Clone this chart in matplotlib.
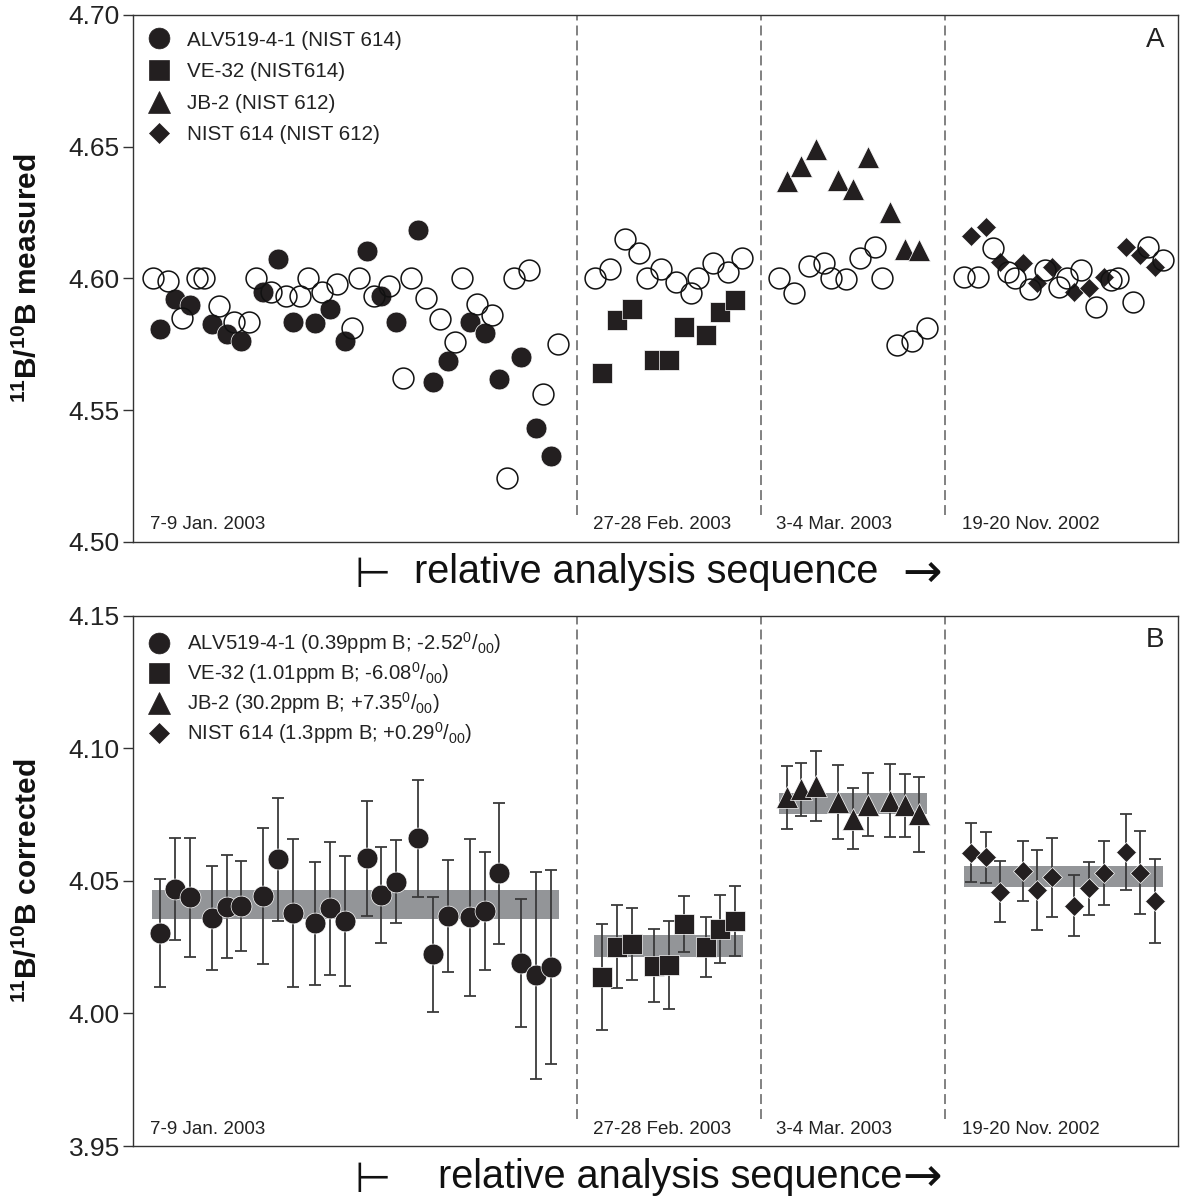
import matplotlib
matplotlib.use('Agg')
import matplotlib.pyplot as plt
from matplotlib.lines import Line2D
from matplotlib import font_manager as fm
import matplotlib.transforms as mtransforms


def has_font(name):
    try:
        fm.findfont(fm.FontProperties(family=name), fallback_to_default=False)
        return True
    except Exception:
        return False


MAIN = 'Liberation Sans'
NARROW = 'Liberation Sans Narrow' if has_font('Liberation Sans Narrow') else 'Liberation Sans'

plt.rcParams['font.family'] = [MAIN, 'DejaVu Sans']
plt.rcParams['mathtext.fontset'] = 'custom'
plt.rcParams['mathtext.rm'] = MAIN
plt.rcParams['mathtext.it'] = MAIN + ':italic'
plt.rcParams['mathtext.bf'] = MAIN + ':bold'

# ---------------- DATA ----------------
# Panel A: measured 11B/10B; x = position in relative analysis sequence
std_x = [2, 4, 6, 8, 9, 11, 13, 15, 16, 18, 20, 22, 23, 25, 27, 29, 30, 32, 34, 36, 37, 39,
         41, 43, 44, 46, 48, 50, 51, 53, 55, 57,
         62, 64, 66, 68, 69, 71, 73, 75, 76, 78, 80, 82,
         87, 89, 91, 93, 94, 96, 98, 100, 101, 103, 105, 107,
         112, 114, 116, 118, 119, 121, 123, 125, 126, 128, 130, 132, 133, 135, 137, 139]
std_meas = [4.600, 4.599, 4.585, 4.600, 4.600, 4.5895, 4.5833, 4.5833, 4.600, 4.5947, 4.5933,
            4.5933, 4.600, 4.5947, 4.5978, 4.5812, 4.600, 4.5933, 4.5971, 4.5623, 4.600, 4.5926,
            4.5844, 4.5759, 4.600, 4.5902, 4.5862, 4.5243, 4.600, 4.6032, 4.5561, 4.575,
            4.600, 4.6034, 4.6148, 4.6095, 4.600, 4.6036, 4.5987, 4.5943, 4.600, 4.6059, 4.6025, 4.6076,
            4.600, 4.5945, 4.6047, 4.6059, 4.600, 4.5997, 4.6077, 4.6118, 4.600, 4.5746, 4.5761, 4.5812,
            4.6004, 4.6004, 4.6116, 4.6025, 4.600, 4.5958, 4.6032, 4.5966, 4.600, 4.6032, 4.5892,
            4.5994, 4.600, 4.5911, 4.6120, 4.6069]

alv_x = [3, 5, 7, 10, 12, 14, 17, 19, 21, 24, 26, 28, 31, 33, 35, 38, 40, 42, 45, 47, 49, 52, 54, 56]
alv_meas = [4.5808, 4.5921, 4.5899, 4.5825, 4.5790, 4.5762, 4.5947, 4.6072, 4.5833, 4.5829,
            4.5883, 4.5762, 4.6105, 4.5933, 4.5833, 4.6183, 4.5607, 4.5687, 4.5833, 4.5791,
            4.5619, 4.5700, 4.5430, 4.5325]

ve_x = [63, 65, 67, 70, 72, 74, 77, 79, 81]
ve_meas = [4.5639, 4.5842, 4.5882, 4.5690, 4.5690, 4.5814, 4.5784, 4.5871, 4.5916]

jb_x = [88, 90, 92, 95, 97, 99, 102, 104, 106]
jb_meas = [4.6369, 4.6426, 4.6493, 4.6373, 4.6339, 4.6462, 4.6253, 4.6111, 4.6107]

nist_x = [113, 115, 117, 120, 122, 124, 127, 129, 131, 134, 136, 138]
nist_meas = [4.6161, 4.6196, 4.6063, 4.6057, 4.5983, 4.6044, 4.5949, 4.5964, 4.6004,
             4.6120, 4.6088, 4.6044]

# Panel B: corrected 11B/10B with 2-sigma errors
alv_corr = [4.0302, 4.0468, 4.0437, 4.0359, 4.0402, 4.0406, 4.0442, 4.0581, 4.0378, 4.0339,
            4.0396, 4.0349, 4.0584, 4.0446, 4.0496, 4.0660, 4.0222, 4.0367, 4.0362, 4.0386,
            4.0528, 4.0191, 4.0144, 4.0176]
alv_err = [0.0204, 0.0192, 0.0223, 0.0197, 0.0195, 0.0170, 0.0256, 0.0232, 0.0280, 0.0231,
           0.0250, 0.0245, 0.0217, 0.0180, 0.0156, 0.0220, 0.0215, 0.0211, 0.0295, 0.0224,
           0.0266, 0.0241, 0.0390, 0.0365]

ve_corr = [4.0138, 4.0251, 4.0260, 4.0180, 4.0182, 4.0336, 4.0251, 4.0318, 4.0348]
ve_err = [0.0200, 0.0157, 0.0136, 0.0137, 0.0166, 0.0105, 0.0114, 0.0129, 0.0132]

jb_corr = [4.0814, 4.0845, 4.0858, 4.0798, 4.0733, 4.0787, 4.0802, 4.0785, 4.0750]
jb_err = [0.0119, 0.0100, 0.0133, 0.0140, 0.0115, 0.0118, 0.0137, 0.0119, 0.0140]

nist_corr = [4.0606, 4.0588, 4.0459, 4.0537, 4.0465, 4.0513, 4.0405, 4.0471, 4.0530,
             4.0609, 4.0530, 4.0423]
nist_err = [0.0112, 0.0097, 0.0115, 0.0112, 0.0150, 0.0148, 0.0115, 0.0101, 0.0121,
            0.0144, 0.0157, 0.0159]

# mean +/- uncertainty bands (x-start, x-end, low, high)
band_x0 = [1.9, 61.9, 87.0, 112.0]
band_x1 = [57.1, 82.1, 107.1, 139.1]
band_lo = [4.0354, 4.0213, 4.0751, 4.0475]
band_hi = [4.0465, 4.0295, 4.0832, 4.0555]

session_breaks = [59.5, 84.5, 109.5]
session_labels = ['7-9 Jan. 2003', '27-28 Feb. 2003', '3-4 Mar. 2003', '19-20 Nov. 2002']
session_label_x = [1.6, 61.7, 86.6, 111.8]

legend_A = ['ALV519-4-1 (NIST 614)', 'VE-32 (NIST614)', 'JB-2 (NIST 612)', 'NIST 614 (NIST 612)']
legend_B = [r'ALV519-4-1 (0.39ppm B; -2.52$^{0}$/$_{00}$)',
            r'VE-32 (1.01ppm B; -6.08$^{0}$/$_{00}$)',
            r'JB-2 (30.2ppm B; +7.35$^{0}$/$_{00}$)',
            r'NIST 614 (1.3ppm B; +0.29$^{0}$/$_{00}$)']

yticks_A = [4.50, 4.55, 4.60, 4.65, 4.70]
yticks_B = [3.95, 4.00, 4.05, 4.10, 4.15]

# ---------------- STYLE ----------------
DARK = '#231f20'
BAND = '#939598'
XMIN, XMAX = -0.7, 141.1

fig = plt.figure(figsize=(11.85, 11.99), dpi=100)
W, H = 1185.0, 1199.0
axA = fig.add_axes([133 / W, 1 - 541.7 / H, 1045 / W, 526.7 / H])
axB = fig.add_axes([133 / W, 1 - 1146.0 / H, 1045 / W, 530.5 / H])

series = [('o', 15.0), ('s', 15.0), ('^', 15.5), ('D', 10.6)]


def style_axes(ax, yticks, letter, xlab_x, start_gap, arrow_gap, ylabel):
    ax.set_xlim(XMIN, XMAX)
    ax.set_ylim(yticks[0], yticks[-1])
    ax.set_yticks(yticks)
    ax.set_yticklabels(['%.2f' % t for t in yticks])
    ax.set_xticks([])
    ax.tick_params(axis='y', direction='out', length=7, width=1.0, labelsize=19,
                   pad=2.5, colors='#333333', labelcolor='#222222')
    for sp in ax.spines.values():
        sp.set_color('#333333')
        sp.set_linewidth(1.0)
    for xb in session_breaks:
        ax.axvline(xb, ymin=0.05, ymax=1.0, color='#777777', lw=1.3,
                   ls=(0, (5.5, 2.8)), zorder=0.5)
    trans = mtransforms.blended_transform_factory(ax.transData, ax.transAxes)
    for lx, lab in zip(session_label_x, session_labels):
        ax.text(lx, 0.032, lab, transform=trans, ha='left', va='center',
                fontsize=13.5, family=[NARROW, 'DejaVu Sans'], color='#222222')
    ax.text(0.978, 0.953, letter, transform=ax.transAxes, ha='center', va='center',
            fontsize=20, color='#222222')
    ax.set_xlabel('relative analysis sequence', fontsize=28.5,
                  family=[NARROW, 'DejaVu Sans'], color='#111111')
    ax.xaxis.set_label_coords(xlab_x, -0.022)
    ax.annotate('\u22a2', xy=(0.0, 0.42), xycoords=ax.xaxis.label,
                xytext=(-start_gap, 0), textcoords='offset points',
                ha='right', va='center', fontsize=30, family='DejaVu Sans',
                color='#111111', annotation_clip=False)
    ax.annotate('\u2192', xy=(1.0, 0.45), xycoords=ax.xaxis.label,
                xytext=(arrow_gap, 0), textcoords='offset points',
                ha='left', va='center', fontsize=34, family='DejaVu Sans',
                color='#111111', annotation_clip=False)
    ax.set_ylabel(ylabel, fontsize=21.5, fontweight='bold', color='#111111')
    ax.yaxis.set_label_coords(-0.086, 0.5)


# ---------- Panel A ----------
axA.plot(std_x, std_meas, ls='none', marker='o', ms=15, mfc='none', mec='#111111',
         mew=1.1, zorder=4)
for (mk, ms), xs, ys in zip(series, [alv_x, ve_x, jb_x, nist_x],
                            [alv_meas, ve_meas, jb_meas, nist_meas]):
    axA.plot(xs, ys, ls='none', marker=mk, ms=ms, mfc=DARK, mec='white', mew=0.5, zorder=3)

handlesA = [Line2D([], [], ls='none', marker=mk, ms=ms, mfc=DARK, mec=DARK, mew=0.5)
            for mk, ms in series]
legA = axA.legend(handlesA, legend_A, loc='upper left', bbox_to_anchor=(0.015, 0.9705),
                  frameon=False, fontsize=14.9, handlelength=1.0, handletextpad=0.87,
                  labelspacing=0.61, borderpad=0, borderaxespad=0)
for t in legA.get_texts():
    t.set_color('#222222')

style_axes(axA, yticks_A, 'A', 0.491, 17, 17,
           r'$^{\mathbf{11}}$B/$^{\mathbf{10}}$B measured')

# ---------- Panel B ----------
for x0, x1, lo, hi in zip(band_x0, band_x1, band_lo, band_hi):
    axB.fill_between([x0, x1], [lo, lo], [hi, hi], color=BAND, lw=0, zorder=1)

for (mk, ms), xs, ys, es in zip(series, [alv_x, ve_x, jb_x, nist_x],
                                [alv_corr, ve_corr, jb_corr, nist_corr],
                                [alv_err, ve_err, jb_err, nist_err]):
    axB.errorbar(xs, ys, yerr=es, fmt='none', ecolor='#3a3a3a', elinewidth=1.3,
                 capsize=4.5, capthick=1.3, zorder=2)
    axB.plot(xs, ys, ls='none', marker=mk, ms=ms, mfc=DARK, mec='white', mew=0.5, zorder=3)

handlesB = [Line2D([], [], ls='none', marker=mk, ms=ms, mfc=DARK, mec=DARK, mew=0.5)
            for mk, ms in series]
legB = axB.legend(handlesB, legend_B, loc='upper left', bbox_to_anchor=(0.015, 0.972),
                  frameon=False, fontsize=14.6, handlelength=1.0, handletextpad=0.89,
                  labelspacing=0.2, borderpad=0, borderaxespad=0)
for t in legB.get_texts():
    t.set_color('#222222')

style_axes(axB, yticks_B, 'B', 0.514, 34, 0,
           r'$^{\mathbf{11}}$B/$^{\mathbf{10}}$B corrected')

fig.savefig('out.png', dpi=100)
